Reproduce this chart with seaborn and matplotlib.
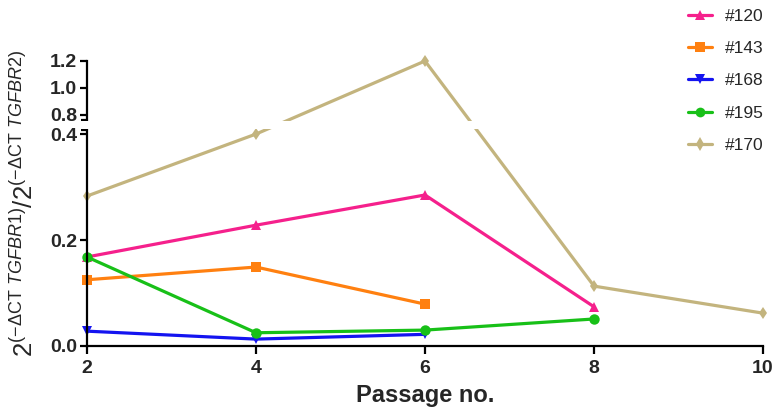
import numpy as np
import pandas as pd
import matplotlib
matplotlib.use("Agg")
import matplotlib.pyplot as plt
import seaborn as sns

# ---------------- data ----------------
samples = ["#120", "#143", "#168", "#195", "#170"]
passage_120 = [2, 4, 6, 8]
values_120 = [0.168, 0.228, 0.285, 0.074]
passage_143 = [2, 4, 6]
values_143 = [0.125, 0.149, 0.079]
passage_168 = [2, 4, 6]
values_168 = [0.028, 0.013, 0.022]
passage_195 = [2, 4, 6, 8]
values_195 = [0.168, 0.025, 0.030, 0.051]
passage_170 = [2, 4, 6, 8, 10]
values_170 = [0.283, 0.400, 1.200, 0.113, 0.062]
x_ticks = [2, 4, 6, 8, 10]
y_ticks = [0.0, 0.2, 0.4, 0.8, 1.0, 1.2]
y_tick_labels = ["0.0", "0.2", "0.4", "0.8", "1.0", "1.2"]

colors = {"#120": "#F5208C", "#143": "#FF8010", "#168": "#1414F0",
          "#195": "#18C018", "#170": "#C3B47E"}
markers = {"#120": "^", "#143": "s", "#168": "v", "#195": "o", "#170": "d"}
msizes = {"#120": 7.5, "#143": 7.5, "#168": 7.5, "#195": 7.5, "#170": 6.5}

series = {"#120": (passage_120, values_120), "#143": (passage_143, values_143),
          "#168": (passage_168, values_168), "#195": (passage_195, values_195),
          "#170": (passage_170, values_170)}
rows = []
for s in samples:
    for p, v in zip(*series[s]):
        rows.append({"sample": s, "passage": p, "value": v})
df = pd.DataFrame(rows)

# ---------------- broken y scale ----------------
L = 0.41      # top of lower segment
U = 0.755     # bottom of upper segment
G = 0.4245    # transformed position of U
K = 0.2547    # upper segment compression

def forward(y):
    y = np.asarray(y, dtype=float)
    return np.where(y <= L, y,
                    np.where(y < U, L + (y - L) * (G - L) / (U - L),
                             G + (y - U) * K))

def inverse(f):
    f = np.asarray(f, dtype=float)
    return np.where(f <= L, f,
                    np.where(f < G, L + (f - L) * (U - L) / (G - L),
                             U + (f - G) / K))

# ---------------- plot ----------------
sns.set_style("ticks")
plt.rcParams["font.family"] = ["Liberation Sans", "DejaVu Sans"]
plt.rcParams["mathtext.fontset"] = "custom"
plt.rcParams["mathtext.rm"] = "Liberation Sans"
plt.rcParams["mathtext.it"] = "Liberation Sans:italic"
plt.rcParams["mathtext.bf"] = "Liberation Sans:bold"

fig = plt.figure(figsize=(7.75, 4.2), dpi=100)
ax = fig.add_axes([87 / 775, 74 / 420, (763 - 87) / 775, (346 - 61) / 420])

sns.lineplot(data=df, x="passage", y="value", hue="sample", style="sample",
             hue_order=samples, style_order=samples, palette=colors,
             markers=markers, dashes=False, linewidth=2.3, markersize=7,
             markeredgewidth=0, ax=ax, legend=True, clip_on=False)

for line, s in zip(ax.lines, samples):
    line.set_markersize(msizes[s])
    line.set_clip_on(False)

ax.set_yscale("function", functions=(forward, inverse))
ax.set_xlim(2, 10)
ax.set_ylim(0, 1.2)
ax.set_xticks(x_ticks)
ax.set_xticklabels([str(t) for t in x_ticks])
ax.set_yticks(y_ticks)
ax.set_yticklabels(y_tick_labels)
ax.set_yticks([L - 0.002, U + 0.008], minor=True)
ax.yaxis.set_minor_formatter(plt.NullFormatter())

for sp in ["top", "right"]:
    ax.spines[sp].set_visible(False)
for sp in ["left", "bottom"]:
    ax.spines[sp].set_linewidth(1.6)
    ax.spines[sp].set_color("black")

ax.tick_params(axis="x", which="major", length=6, width=1.6, pad=4,
               labelsize=14, color="black")
ax.tick_params(axis="y", which="major", length=5, width=1.6, pad=2,
               labelsize=14, color="black")
ax.tick_params(axis="y", which="minor", length=4, width=1.6, color="black")
for lab in ax.get_xticklabels() + ax.get_yticklabels():
    lab.set_fontweight("bold")

# white break band
ax.axhspan(L, U, xmin=-0.01, xmax=1.0, color="white", zorder=5,
           clip_on=False, linewidth=0)

ax.set_xlabel("Passage no.", fontsize=17, fontweight="bold", labelpad=5)
ax.set_ylabel(r"$\mathrm{2}^{(\mathrm{-ΔCT}\ \mathit{TGFBR1})}\mathrm{/2}^{(\mathrm{-ΔCT}\ \mathit{TGFBR2})}$",
              fontsize=18.5)
ax.yaxis.set_label_coords(-0.073, 0.5)

handles, labels = ax.get_legend_handles_labels()
ax.get_legend().remove()
hmap = dict(zip(labels, handles))
fig.legend([hmap[s] for s in samples], samples, loc="upper left",
           bbox_to_anchor=(688 / 775, 1 - 9 / 420), frameon=False,
           fontsize=12.5, handlelength=1.4, handletextpad=0.7,
           labelspacing=0.98, borderpad=0, borderaxespad=0)

fig.savefig("out.png", dpi=100)
